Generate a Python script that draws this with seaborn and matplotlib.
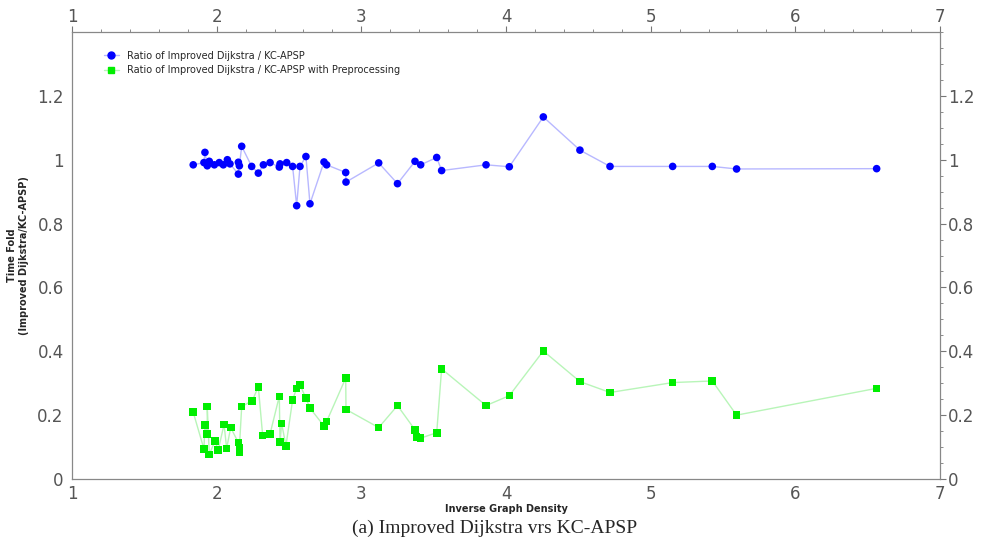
import matplotlib
matplotlib.use("Agg")
import matplotlib.pyplot as plt
from matplotlib.lines import Line2D
from matplotlib.ticker import MultipleLocator
import seaborn as sns
import pandas as pd

# Ratio of Improved Dijkstra / KC-APSP
blue_x = [1.838, 1.912, 1.919, 1.935, 1.949, 1.984, 2.018, 2.046, 2.074, 2.092,
          2.150, 2.150, 2.157, 2.173, 2.242, 2.288, 2.323, 2.369, 2.433, 2.438,
          2.484, 2.525, 2.553, 2.576, 2.617, 2.645, 2.742, 2.760, 2.892, 2.894,
          3.120, 3.250, 3.371, 3.410, 3.521, 3.555, 3.862, 4.023, 4.258, 4.511,
          4.719, 5.152, 5.426, 5.594, 6.562]
blue_y = [0.984, 0.991, 1.023, 0.981, 0.995, 0.984, 0.991, 0.984, 1.000, 0.987,
          0.992, 0.955, 0.981, 1.042, 0.979, 0.958, 0.984, 0.991, 0.977, 0.987,
          0.991, 0.979, 0.856, 0.979, 1.010, 0.862, 0.993, 0.984, 0.960, 0.930,
          0.990, 0.925, 0.995, 0.984, 1.007, 0.966, 0.984, 0.978, 1.134, 1.030,
          0.979, 0.979, 0.979, 0.971, 0.972]

# Ratio of Improved Dijkstra / KC-APSP with Preprocessing
green_x = [1.838, 1.912, 1.919, 1.935, 1.935, 1.949, 1.988, 2.011, 2.051, 2.069,
           2.097, 2.150, 2.157, 2.157, 2.173, 2.246, 2.288, 2.318, 2.369, 2.433,
           2.438, 2.449, 2.479, 2.525, 2.553, 2.576, 2.617, 2.645, 2.742, 2.760,
           2.892, 2.894, 3.120, 3.250, 3.371, 3.382, 3.410, 3.521, 3.555, 3.862,
           4.023, 4.258, 4.511, 4.719, 5.152, 5.426, 5.594, 6.562]
green_y = [0.209, 0.094, 0.169, 0.227, 0.141, 0.077, 0.119, 0.091, 0.171, 0.096,
           0.161, 0.114, 0.098, 0.084, 0.227, 0.245, 0.289, 0.136, 0.141, 0.259,
           0.115, 0.174, 0.104, 0.248, 0.284, 0.295, 0.253, 0.222, 0.166, 0.180,
           0.316, 0.218, 0.161, 0.230, 0.154, 0.131, 0.128, 0.145, 0.345, 0.230,
           0.261, 0.401, 0.305, 0.271, 0.302, 0.307, 0.200, 0.284]

labels = ["Ratio of Improved Dijkstra / KC-APSP",
          "Ratio of Improved Dijkstra / KC-APSP with Preprocessing"]
ytick_vals = [0, 0.2, 0.4, 0.6, 0.8, 1.0, 1.2]
ytick_labels = ["0", "0.2", "0.4", "0.6", "0.8", "1", "1.2"]

sns.set_style("white")
plt.rcParams['font.family'] = ['DejaVu Sans']

df_b = pd.DataFrame({"x": blue_x, "y": blue_y})
df_g = pd.DataFrame({"x": green_x, "y": green_y})

fig = plt.figure(figsize=(9.93, 5.44), dpi=100)
# axes box: x 72..940 px, y 32..479 px
ax = fig.add_axes([72 / 993, 65 / 544, 868 / 993, 447 / 544])

blue = "#0000ff"
green = "#00ee00"
sns.lineplot(data=df_b, x="x", y="y", ax=ax, color="#b8b8ff", lw=1.0,
             sort=True, estimator=None, zorder=1)
sns.lineplot(data=df_g, x="x", y="y", ax=ax, color="#b8f5b8", lw=1.0,
             sort=True, estimator=None, zorder=1)
sns.scatterplot(data=df_b, x="x", y="y", ax=ax, color=blue, marker="o", s=30,
                edgecolor="none", zorder=3)
sns.scatterplot(data=df_g, x="x", y="y", ax=ax, color=green, marker="s", s=30,
                edgecolor="none", zorder=3)

ax.set_xlim(1, 7)
ax.set_ylim(0, 1.4)
ax.xaxis.set_major_locator(MultipleLocator(1))
ax.xaxis.set_minor_locator(MultipleLocator(0.2))
ax.yaxis.set_minor_locator(MultipleLocator(0.05))
ax.set_yticks(ytick_vals)
ax.set_yticklabels(ytick_labels)

ax.tick_params(which="both", direction="out", color="#777777",
               labelcolor="#555555", labelsize=12,
               top=True, right=True, labeltop=True, labelright=True)
ax.tick_params(which="major", length=4, width=0.8, pad=2)
ax.tick_params(which="minor", length=2.5, width=0.6)
ax.tick_params(axis="x", which="major", pad=0)
for sp in ax.spines.values():
    sp.set_color("#888888")
    sp.set_linewidth(0.9)

ax.set_xlabel("Inverse Graph Density", fontsize=7, fontweight="bold", labelpad=1)
ax.set_ylabel("Time Fold\n(Improved Dijkstra/KC-APSP)", fontsize=7,
              fontweight="bold", labelpad=6)

handles = [Line2D([0], [0], color="#b8b8ff", lw=1, marker="o", markersize=5,
                  markerfacecolor=blue, markeredgecolor=blue),
           Line2D([0], [0], color="#b8f5b8", lw=1, marker="s", markersize=5,
                  markerfacecolor=green, markeredgecolor=green)]
ax.legend(handles, labels, loc="upper left", bbox_to_anchor=(0.027, 0.978),
          frameon=False, fontsize=7, handlelength=1.5, handletextpad=0.8,
          labelspacing=0.45)

fig.text(0.498, 0.028, "(a) Improved Dijkstra vrs KC-APSP", ha="center",
         va="center", fontsize=14, family="Liberation Serif")

fig.savefig("out.png", dpi=100)
